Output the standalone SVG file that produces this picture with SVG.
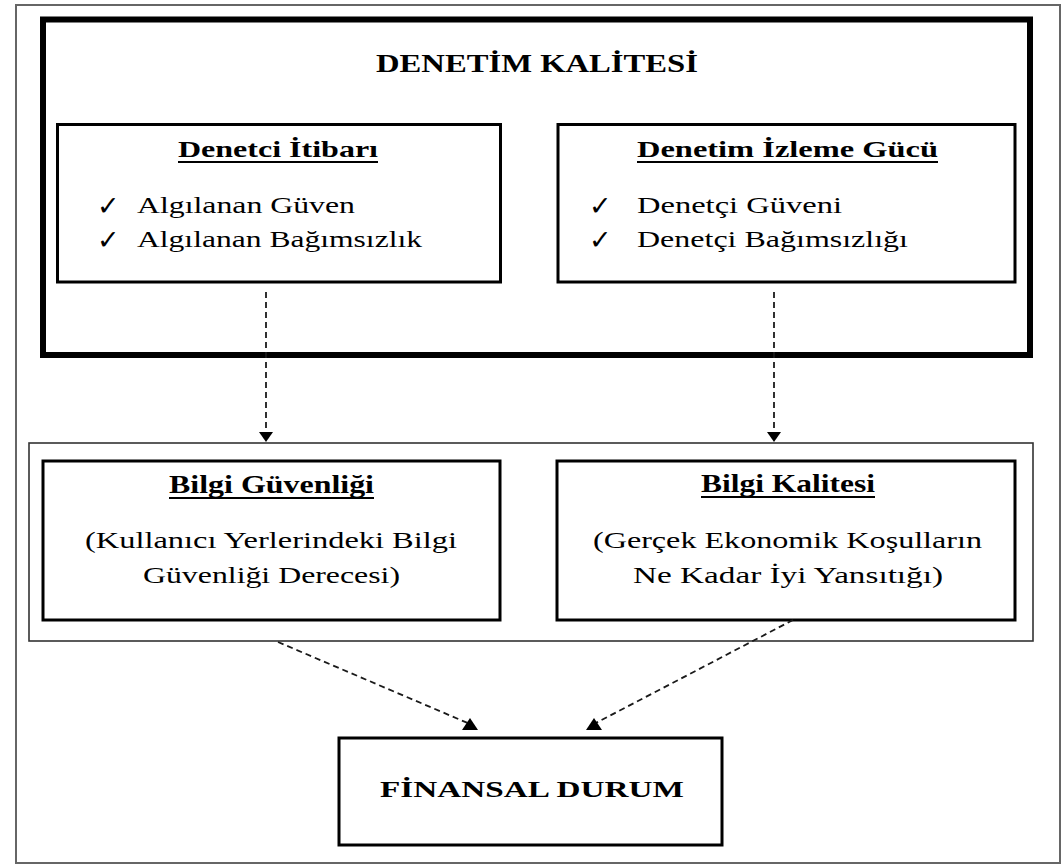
<svg xmlns="http://www.w3.org/2000/svg" width="1062" height="868" viewBox="0 0 1062 868">
<style>
  .t { font-family: "Liberation Serif", "Times New Roman", serif; fill: #000; }
  .b { font-weight: bold; }
  .chk { font-family: "DejaVu Sans", sans-serif; font-size: 27px; fill: #000; }
  .box { fill: #fff; stroke: #000; stroke-width: 3; }
  .ul { stroke: #000; stroke-width: 2; }
  .dash { fill: none; stroke: #1a1a1a; stroke-width: 1.8; stroke-dasharray: 6 4; }
</style>
<defs>
  <marker id="down" markerUnits="userSpaceOnUse" orient="auto" refX="0" refY="0" overflow="visible">
    <path d="M0,0 L-10,-7 L-10,7 z" fill="#000"/>
  </marker>
  <marker id="up" markerUnits="userSpaceOnUse" orient="0" refX="0" refY="0" overflow="visible">
    <path d="M-8,6 L8,6 L0,-6 z" fill="#000"/>
  </marker>
</defs>
<rect width="1062" height="868" fill="#fff"/>
<rect x="16" y="5" width="1044" height="858" fill="none" stroke="#666" stroke-width="2"/>

<g id="denetim-kalitesi">
  <rect x="43" y="19.5" width="987" height="335.5" fill="#fff" stroke="#000" stroke-width="6"/>
  <text class="t b" x="537" y="72" font-size="25" text-anchor="middle" textLength="322" lengthAdjust="spacingAndGlyphs">DENETİM KALİTESİ</text>
</g>

<g id="denetci-itibari">
  <rect class="box" x="57.5" y="124.5" width="443" height="157.5"/>
  <text class="t b" x="178" y="157" font-size="24" textLength="200" lengthAdjust="spacingAndGlyphs">Denetci İtibarı</text>
  <line class="ul" x1="178" y1="162" x2="378" y2="162"/>
  <text class="chk" x="97" y="215">✓</text>
  <text class="t" x="137" y="213" font-size="24" textLength="218" lengthAdjust="spacingAndGlyphs">Algılanan Güven</text>
  <text class="chk" x="97" y="249">✓</text>
  <text class="t" x="137" y="247" font-size="24" textLength="285" lengthAdjust="spacingAndGlyphs">Algılanan Bağımsızlık</text>
</g>

<g id="denetim-izleme-gucu">
  <rect class="box" x="558" y="124.5" width="457" height="157.5"/>
  <text class="t b" x="637" y="157" font-size="24" textLength="301" lengthAdjust="spacingAndGlyphs">Denetim İzleme Gücü</text>
  <line class="ul" x1="637" y1="162" x2="938" y2="162"/>
  <text class="chk" x="589" y="215">✓</text>
  <text class="t" x="637" y="213" font-size="24" textLength="205" lengthAdjust="spacingAndGlyphs">Denetçi Güveni</text>
  <text class="chk" x="589" y="249">✓</text>
  <text class="t" x="637" y="247" font-size="24" textLength="271" lengthAdjust="spacingAndGlyphs">Denetçi Bağımsızlığı</text>
</g>

<g id="bilgi-grubu">
  <rect x="29" y="443" width="1004" height="198" fill="#fff" stroke="#333" stroke-width="1.6"/>
</g>

<g id="bilgi-guvenligi">
  <rect class="box" x="43" y="461" width="457" height="159"/>
  <text class="t b" x="169" y="493" font-size="25" textLength="205" lengthAdjust="spacingAndGlyphs">Bilgi Güvenliği</text>
  <line class="ul" x1="169" y1="498" x2="374" y2="498"/>
  <text class="t" x="85" y="548" font-size="24" textLength="372" lengthAdjust="spacingAndGlyphs">(Kullanıcı Yerlerindeki Bilgi</text>
  <text class="t" x="143" y="583" font-size="24" textLength="257" lengthAdjust="spacingAndGlyphs">Güvenliği Derecesi)</text>
</g>

<g id="bilgi-kalitesi">
  <rect class="box" x="557" y="461" width="458" height="159"/>
  <text class="t b" x="701" y="492" font-size="25" textLength="174" lengthAdjust="spacingAndGlyphs">Bilgi Kalitesi</text>
  <line class="ul" x1="701" y1="497" x2="875" y2="497"/>
  <text class="t" x="593" y="548" font-size="24" textLength="389" lengthAdjust="spacingAndGlyphs">(Gerçek Ekonomik Koşulların</text>
  <text class="t" x="633" y="583" font-size="24" textLength="310" lengthAdjust="spacingAndGlyphs">Ne Kadar İyi Yansıtığı)</text>
</g>

<g id="finansal-durum">
  <rect class="box" x="339" y="738" width="383" height="107"/>
  <text class="t b" x="380" y="797" font-size="23" textLength="304" lengthAdjust="spacingAndGlyphs">FİNANSAL DURUM</text>
</g>

<g id="connectors">
  <line class="dash" x1="266" y1="292" x2="266" y2="442" marker-end="url(#down)"/>
  <line class="dash" x1="774" y1="292" x2="774" y2="442" marker-end="url(#down)"/>
  <line class="dash" x1="278" y1="642" x2="470" y2="724" marker-end="url(#up)"/>
  <line class="dash" x1="793" y1="620" x2="594" y2="724" marker-end="url(#up)"/>
</g>
</svg>
